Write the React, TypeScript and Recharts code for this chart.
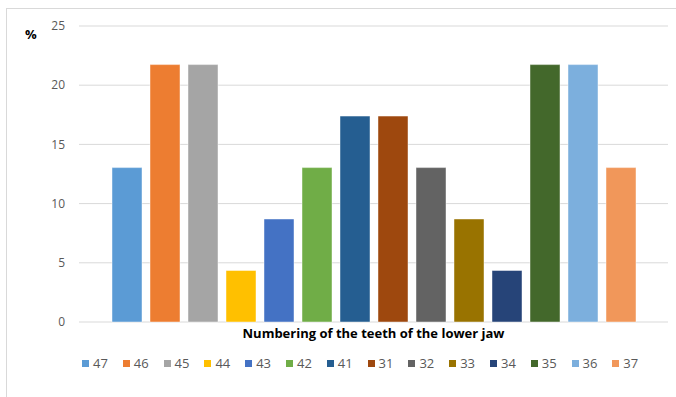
import React from "react";
import { BarChart, Bar, XAxis, YAxis, CartesianGrid } from "recharts";

// teeth of the lower jaw, in chart order
const teeth = ["47", "46", "45", "44", "43", "42", "41", "31", "32", "33", "34", "35", "36", "37"];
const shares = [13.04, 21.74, 21.74, 4.35, 8.7, 13.04, 17.39, 17.39, 13.04, 8.7, 4.35, 21.74, 21.74, 13.04];
const colors = [
  "#5B9BD5", "#ED7D31", "#A5A5A5", "#FFC000", "#4472C4", "#70AD47", "#255E91",
  "#9E480E", "#636363", "#997300", "#264478", "#43682B", "#7CAFDD", "#F1975A",
];
const yTicks = [0, 5, 10, 15, 20, 25];

const row: Record<string, number | string> = { name: "lower jaw" };
teeth.forEach((t, i) => {
  row["t" + t] = shares[i];
});
const data = [row];

const FONT = "'Open Sans', 'Noto Sans', sans-serif";

function LegendRow() {
  return (
    <div
      style={{
        position: "absolute",
        left: 82,
        top: 355,
        display: "flex",
        fontFamily: FONT,
        fontSize: 13,
        color: "#595959",
      }}
    >
      {teeth.map((t, i) => (
        <div key={t} style={{ width: 40.8, display: "flex", alignItems: "center" }}>
          <span style={{ width: 7, height: 7, background: colors[i], marginRight: 4, display: "inline-block" }} />
          <span style={{ lineHeight: "16px" }}>{t}</span>
        </div>
      ))}
    </div>
  );
}

export default function App() {
  return (
    <div
      style={{
        position: "absolute",
        left: 0,
        top: 0,
        width: 676,
        height: 397,
        overflow: "hidden",
        background: "#fff",
      }}
    >
      <div
        style={{
          position: "absolute",
          left: 6,
          top: 8,
          width: 720,
          height: 440,
          border: "1px solid #d9d9d9",
        }}
      />
      <span
        style={{
          position: "absolute",
          left: 25,
          top: 25,
          fontFamily: FONT,
          fontWeight: 700,
          fontSize: 13,
          color: "#000",
        }}
      >
        %
      </span>
      <div style={{ position: "absolute", left: 0, top: 0 }}>
        <BarChart
          width={676}
          height={397}
          data={data}
          margin={{ top: 26, right: 8, left: 0, bottom: 75 }}
          barCategoryGap={33}
          barGap={8}
        >
          <CartesianGrid vertical={false} stroke="#d9d9d9" />
          <XAxis dataKey="name" hide />
          <YAxis
            width={79}
            domain={[0, 25]}
            ticks={yTicks}
            tickLine={false}
            axisLine={false}
            tickMargin={8}
            tick={{ fill: "#595959", fontSize: 12, fontFamily: FONT }}
          />
          {teeth.map((t, i) => (
            <Bar
              key={t}
              dataKey={"t" + t}
              name={t}
              fill={colors[i]}
              stroke="#ffffff"
              strokeOpacity={0.45}
              strokeWidth={1}
              isAnimationActive={false}
            />
          ))}
        </BarChart>
      </div>
      <div
        style={{
          position: "absolute",
          left: 79,
          width: 589,
          top: 324,
          textAlign: "center",
          fontFamily: FONT,
          fontWeight: 700,
          fontSize: 13,
          color: "#000",
        }}
      >
        Numbering of the teeth of the lower jaw
      </div>
      <LegendRow />
    </div>
  );
}
